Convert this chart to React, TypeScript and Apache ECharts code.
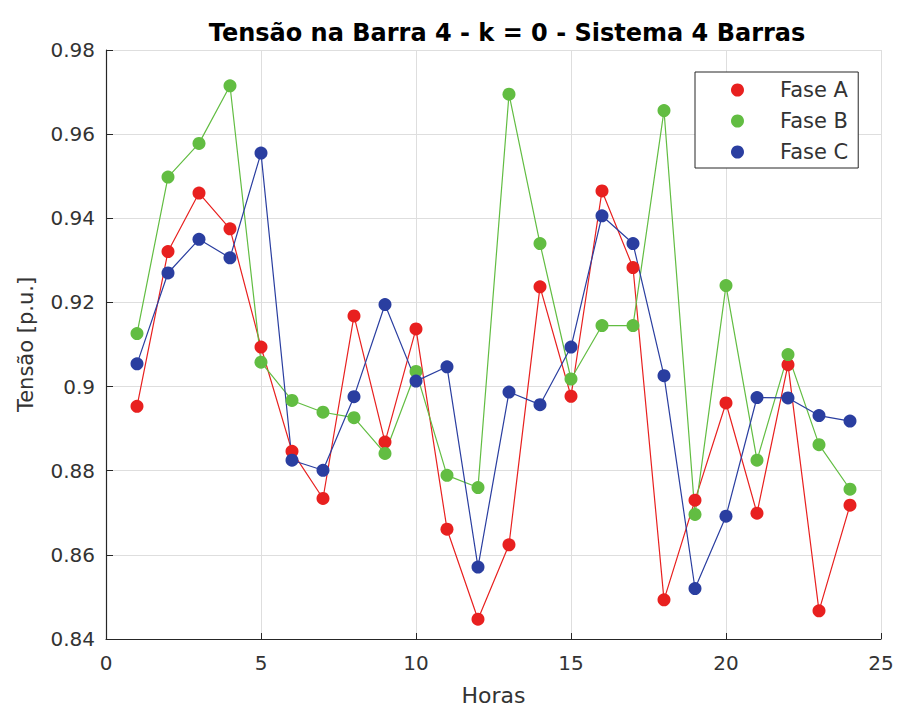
import React, { useEffect, useRef } from "react";
import * as echarts from "echarts";

const hours = [1, 2, 3, 4, 5, 6, 7, 8, 9, 10, 11, 12, 13, 14, 15, 16, 17, 18, 19, 20, 21, 22, 23, 24];
const faseA = [0.8953, 0.9321, 0.946, 0.9375, 0.9094, 0.8846, 0.8734, 0.9168, 0.8868, 0.9137, 0.8661, 0.8447, 0.8624, 0.9237, 0.8977, 0.9465, 0.9283, 0.8493, 0.873, 0.8961, 0.8699, 0.9052, 0.8467, 0.8718];
const faseB = [0.9126, 0.9498, 0.9578, 0.9715, 0.9058, 0.8967, 0.8939, 0.8926, 0.8841, 0.9036, 0.8789, 0.876, 0.9695, 0.934, 0.9018, 0.9145, 0.9145, 0.9656, 0.8696, 0.924, 0.8825, 0.9076, 0.8862, 0.8756];
const faseC = [0.9054, 0.927, 0.935, 0.9306, 0.9555, 0.8825, 0.8801, 0.8976, 0.9195, 0.9013, 0.9047, 0.8571, 0.8987, 0.8957, 0.9094, 0.9406, 0.934, 0.9026, 0.852, 0.8692, 0.8974, 0.8973, 0.8931, 0.8918];
const seriesNames = ["Fase A", "Fase B", "Fase C"];
const colors = ["#e8201f", "#62bd42", "#2a3ea0"];

const FONT = "DejaVu Sans";
const TXT = "#333333";

export default function App() {
  const ref = useRef<HTMLDivElement>(null);
  useEffect(() => {
    if (!ref.current) return;
    const chart = echarts.init(ref.current, null, { renderer: "svg" });
    const all = [faseA, faseB, faseC];
    chart.setOption({
      animation: false,
      backgroundColor: "#ffffff",
      title: {
        text: "Tensão na Barra 4 - k = 0 - Sistema 4 Barras",
        left: 502,
        top: 16,
        textAlign: "center",
        textStyle: { fontFamily: FONT, fontSize: 24, fontWeight: "bold", color: "#000" },
      },
      grid: { left: 106, right: 20, top: 50, bottom: 71 },
      legend: {
        left: 695,
        top: 72,
        orient: "vertical",
        icon: "circle",
        itemWidth: 13,
        itemHeight: 13,
        itemGap: 9,
        padding: [7, 10, 5, 36],
        borderColor: "#262626",
        borderWidth: 1,
        backgroundColor: "#fff",
        data: seriesNames,
        textStyle: { fontFamily: FONT, fontSize: 21, color: TXT, lineHeight: 22, padding: [0, 0, 0, 31] },
      },
      xAxis: {
        type: "value",
        min: 0,
        max: 25,
        interval: 5,
        name: "Horas",
        nameLocation: "middle",
        nameGap: 45,
        nameTextStyle: { fontFamily: FONT, fontSize: 22, color: TXT },
        axisLine: { show: true, lineStyle: { color: "#262626", width: 1.2 } },
        axisTick: { show: true, inside: true, length: 6, lineStyle: { color: "#262626" } },
        axisLabel: { fontFamily: FONT, fontSize: 20, color: TXT, margin: 14 },
        splitLine: { show: true, lineStyle: { color: "#dedede", width: 1 } },
      },
      yAxis: {
        type: "value",
        min: 0.84,
        max: 0.98,
        interval: 0.02,
        name: "Tensão [p.u.]",
        nameLocation: "middle",
        nameGap: 70,
        nameTextStyle: { fontFamily: FONT, fontSize: 21, color: TXT },
        axisLine: { show: true, lineStyle: { color: "#262626", width: 1.2 } },
        axisTick: { show: true, inside: true, length: 7, lineStyle: { color: "#262626" } },
        axisLabel: {
          fontFamily: FONT,
          fontSize: 20,
          color: TXT,
          margin: 11,
          formatter: (v: number) => String(parseFloat(v.toFixed(2))),
        },
        splitLine: { show: true, lineStyle: { color: "#dedede", width: 1 } },
      },
      series: all.map((vals, i) => ({
        name: seriesNames[i],
        type: "line",
        data: hours.map((h, j) => [h, vals[j]]),
        symbol: "circle",
        symbolSize: 13,
        showSymbol: true,
        lineStyle: { color: colors[i], width: 1.2 },
        itemStyle: { color: colors[i] },
      })),
    });
    return () => chart.dispose();
  }, []);
  return <div ref={ref} style={{ position: "absolute", left: 0, top: 0, width: 901, height: 711 }} />;
}
